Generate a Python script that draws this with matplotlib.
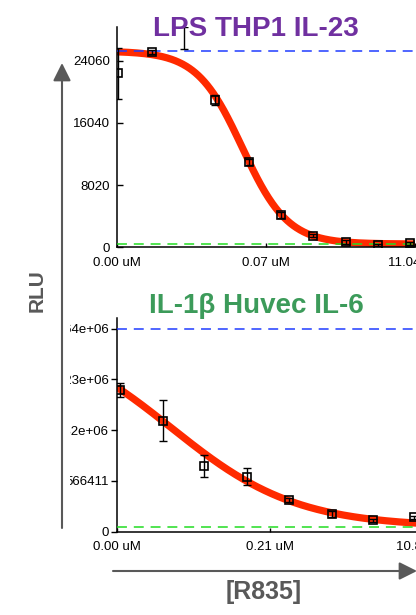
import numpy as np
import matplotlib
matplotlib.use("Agg")
import matplotlib.pyplot as plt
from matplotlib import font_manager
from matplotlib.patches import Rectangle, FancyArrowPatch
from matplotlib.ticker import FixedLocator, FixedFormatter, FormatStrFormatter

# ---------------- data ----------------
# Panel 1: LPS THP1 IL-23
top_title = "LPS THP1 IL-23"
top_conc = [0.00048, 0.00151, 0.00446, 0.0127, 0.0402, 0.119, 0.351, 1.074, 3.16, 9.36]
top_rlu = [22470, 25170, 26980, 18990, 10990, 4160, 1520, 680, 300, 490]
top_err = [3290, 260, 1450, 700, 400, 350, 250, 200, 150, 200]
top_show_marker = [True, True, False, True, True, True, True, True, True, True]
top_xlim = [0.00046, 11.04]
top_ylim = [0, 28405]
top_yticks = [0, 8020, 16040, 24060]
top_fit = dict(top=25300, bottom=425, ic50=0.0319, hill=1.30)
top_upper_line = 25300
top_lower_line = 425

# Panel 2: IL-1beta Huvec IL-6
bot_title = "IL-1\u03b2 Huvec IL-6"
bot_conc = [0.0044, 0.0133, 0.038, 0.115, 0.34, 1.02, 2.95, 8.5]
bot_rlu = [1579000, 1237000, 734000, 612000, 352000, 192000, 128000, 158000]
bot_err = [78000, 227000, 121000, 97000, 22000, 33000, 17000, 20000]
bot_xlim = [0.00406, 10.85]
bot_ylim = [0, 2383000]
bot_yticks = [0, 566411, 1132822, 1699233, 2265644]
bot_fit = dict(top=2265644, bottom=50000, ic50=0.0164, hill=0.62)
bot_upper_line = 2265644
bot_lower_line = 50000

y_label = "RLU"
x_label = "[R835]"

# ---------------- style ----------------
W, H = 416, 615
names = {f.name for f in font_manager.fontManager.ttflist}
tick_family = "Liberation Sans Narrow" if "Liberation Sans Narrow" in names else "Liberation Sans"
tick_size = 11 if tick_family == "Liberation Sans Narrow" else 9.5
plt.rcParams["font.family"] = ["Liberation Sans", "DejaVu Sans"]

RED = "#ff2a00"
BLUE = "#1f3cff"
GREEN = "#22dd22"
GRAY = "#595959"

fig = plt.figure(figsize=(W / 100, H / 100), dpi=100)
fig.patch.set_facecolor("white")


def px_axes(l, r, t, b):
    return fig.add_axes([l / W, 1 - b / H, (r - l) / W, (b - t) / H])


def fourpl(x, top, bottom, ic50, hill):
    return bottom + (top - bottom) / (1.0 + (x / ic50) ** hill)


def draw_panel(ax, conc, rlu, err, show, xlim, ylim, yticks, fit, upper, lower,
               ydir, ypad):
    ax.set_xscale("log")
    ax.set_xlim(*xlim)
    ax.set_ylim(*ylim)
    for s in ("top", "right"):
        ax.spines[s].set_visible(False)
    for s in ("left", "bottom"):
        ax.spines[s].set_linewidth(1.1)
        ax.spines[s].set_color("black")
    xs = np.logspace(np.log10(xlim[0]), np.log10(xlim[1]), 400)
    ax.plot(xs, fourpl(xs, **fit), color=RED, lw=5.2, solid_capstyle="butt", zorder=2)
    l1, = ax.plot(xlim, [upper, upper], color=BLUE, lw=1.1, zorder=3)
    l1.set_dashes((6.5, 4.5))
    l2, = ax.plot(xlim, [lower, lower], color=GREEN, lw=1.1, zorder=3)
    l2.set_dashes((6.5, 4.5))
    ax.errorbar(conc, rlu, yerr=err, fmt="none", ecolor="black", elinewidth=1.0,
                capsize=3, capthick=1.0, zorder=4)
    mc = [c for c, s in zip(conc, show) if s]
    mr = [r for r, s in zip(rlu, show) if s]
    ax.plot(mc, mr, ls="none", marker="s", ms=5.5, mfc="none", mec="black",
            mew=1.2, zorder=5)
    mid = np.sqrt(xlim[0] * xlim[1])
    xt = [xlim[0], mid, xlim[1]]
    ax.xaxis.set_major_locator(FixedLocator(xt))
    ax.xaxis.set_major_formatter(FixedFormatter(["%.2f uM" % v for v in xt]))
    ax.xaxis.set_minor_locator(FixedLocator([]))
    ax.yaxis.set_major_locator(FixedLocator(yticks))
    ax.yaxis.set_major_formatter(FormatStrFormatter("%g"))
    ax.tick_params(axis="x", direction="in", length=3, width=1, pad=7,
                   labelsize=tick_size)
    ax.tick_params(axis="y", direction=ydir, length=4, width=1, pad=ypad,
                   labelsize=tick_size)
    for lab in ax.get_xticklabels() + ax.get_yticklabels():
        lab.set_family(tick_family)
    ax.patch.set_alpha(0)


ax1 = px_axes(117, 415, 27, 247.3)
draw_panel(ax1, top_conc, top_rlu, top_err, top_show_marker, top_xlim, top_ylim,
           top_yticks, top_fit, top_upper_line, top_lower_line, "in", 5)

ax2 = px_axes(117, 423.7, 318, 531.5)
draw_panel(ax2, bot_conc, bot_rlu, bot_err, [True] * len(bot_conc), bot_xlim,
           bot_ylim, bot_yticks, bot_fit, bot_upper_line, bot_lower_line, "out", 1.5)

# white mask that crops the long tick labels of the lower panel
fig.add_artist(Rectangle((0, 1 - 497 / H), 70 / W, (497 - 316) / H,
                         transform=fig.transFigure, facecolor="white",
                         edgecolor="none", zorder=5))

# titles
fig.text(256 / W, 1 - 36 / H, top_title, color="#7030a0", fontsize=20,
         fontweight="bold", ha="center", va="baseline", zorder=6)
fig.text(256 / W, 1 - 313 / H, bot_title, color="#3c9b5a", fontsize=20,
         fontweight="bold", ha="center", va="baseline", zorder=6)

# axis arrows (pixel coordinates converted to inches)
def pin(x, y):
    return (x / 100, (H - y) / 100)

arr_v = FancyArrowPatch(pin(62, 528), pin(62, 63), transform=fig.dpi_scale_trans,
                        arrowstyle="-|>,head_length=0.6,head_width=0.3",
                        mutation_scale=18, color=GRAY, lw=1.5,
                        shrinkA=0, shrinkB=0, zorder=7)
fig.add_artist(arr_v)
arr_h = FancyArrowPatch(pin(113, 571), pin(417, 571), transform=fig.dpi_scale_trans,
                        arrowstyle="-|>,head_length=0.6,head_width=0.3",
                        mutation_scale=18, color=GRAY, lw=1.5,
                        shrinkA=0, shrinkB=0, zorder=7)
fig.add_artist(arr_h)

fig.text(37 / W, 1 - 291 / H, y_label, color=GRAY, fontsize=15, fontweight="bold",
         rotation=90, ha="center", va="center", zorder=8)
fig.text(264 / W, 1 - 592 / H, x_label, color=GRAY, fontsize=18, fontweight="bold",
         ha="center", va="center", zorder=8)

fig.savefig("out.png", dpi=100, facecolor="white")
